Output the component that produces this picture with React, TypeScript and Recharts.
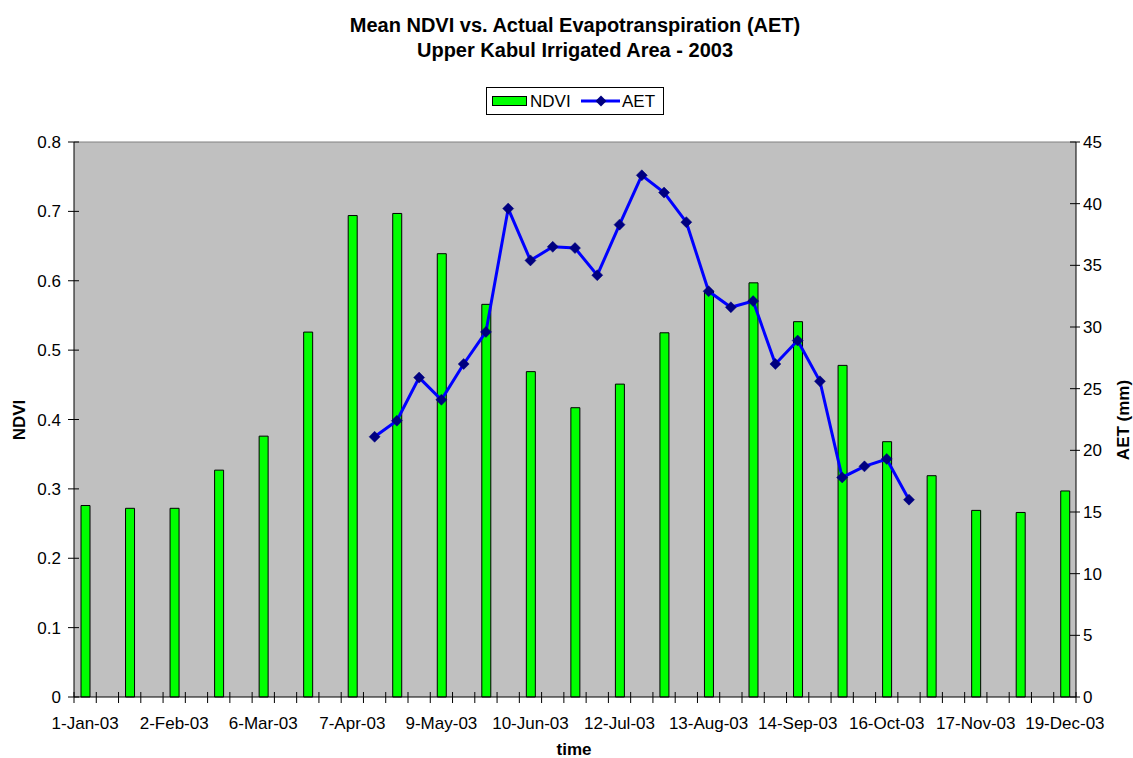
import { ComposedChart, Bar, Line, XAxis, YAxis, CartesianGrid, ReferenceLine } from 'recharts';

// 8-day periods across 2003
const dates = [
  '1-Jan-03', '9-Jan-03', '17-Jan-03', '25-Jan-03', '2-Feb-03', '10-Feb-03', '18-Feb-03', '26-Feb-03',
  '6-Mar-03', '14-Mar-03', '22-Mar-03', '30-Mar-03', '7-Apr-03', '15-Apr-03', '23-Apr-03', '1-May-03',
  '9-May-03', '17-May-03', '25-May-03', '2-Jun-03', '10-Jun-03', '18-Jun-03', '26-Jun-03', '4-Jul-03',
  '12-Jul-03', '20-Jul-03', '28-Jul-03', '5-Aug-03', '13-Aug-03', '21-Aug-03', '29-Aug-03', '6-Sep-03',
  '14-Sep-03', '22-Sep-03', '30-Sep-03', '8-Oct-03', '16-Oct-03', '24-Oct-03', '1-Nov-03', '9-Nov-03',
  '17-Nov-03', '25-Nov-03', '3-Dec-03', '11-Dec-03', '19-Dec-03',
];

// 16-day NDVI composites, starting 1-Jan-03
const ndvi = [
  0.276, 0.272, 0.272, 0.327, 0.376, 0.526, 0.694, 0.697, 0.639, 0.566, 0.469, 0.417,
  0.451, 0.525, 0.585, 0.597, 0.541, 0.478, 0.368, 0.319, 0.269, 0.266, 0.297,
];

// 8-day AET (mm), starting 15-Apr-03
const aetStart = '15-Apr-03';
const aet = [
  21.1, 22.4, 25.9, 24.1, 27.0, 29.6, 39.6, 35.4, 36.5, 36.4, 34.2, 38.3, 42.3,
  40.9, 38.5, 32.9, 31.6, 32.1, 27.0, 28.9, 25.6, 17.8, 18.7, 19.3, 16.0,
];

const ndviTicks = [0, 0.1, 0.2, 0.3, 0.4, 0.5, 0.6, 0.7, 0.8];
const aetTicks = [0, 5, 10, 15, 20, 25, 30, 35, 40, 45];

const W = 1133;
const H = 758;
const PLOT_LEFT = 74;
const PLOT_RIGHT = 1076;
const PLOT_TOP = 142;
const PLOT_BOTTOM = 697;
const BAND = (PLOT_RIGHT - PLOT_LEFT) / dates.length;
const FONT = '"Liberation Sans", Arial, sans-serif';

const aetOffset = dates.indexOf(aetStart);
const data = dates.map((date, i) => ({
  date,
  ndvi: i % 2 === 0 ? ndvi[i / 2] : null,
  aet: i >= aetOffset && i < aetOffset + aet.length ? aet[i - aetOffset] : null,
}));

const XTick = (props: any) => {
  const { x, payload } = props;
  const i = payload.index;
  const left = x - BAND / 2;
  return (
    <g>
      <line x1={left} x2={left} y1={PLOT_BOTTOM - 5} y2={PLOT_BOTTOM + 6} stroke="#000" />
      {i === dates.length - 1 && (
        <line x1={left + BAND} x2={left + BAND} y1={PLOT_BOTTOM - 5} y2={PLOT_BOTTOM + 6} stroke="#000" />
      )}
      {i % 4 === 0 && (
        <text x={x} y={729} textAnchor="middle" fontSize={17} fontFamily={FONT} fill="#000">
          {payload.value}
        </text>
      )}
    </g>
  );
};

const LeftTick = (props: any) => {
  const { y, payload } = props;
  return (
    <g>
      <line x1={PLOT_LEFT - 6} x2={PLOT_LEFT + 5} y1={y} y2={y} stroke="#000" />
      <text x={61} y={y} dy={6} textAnchor="end" fontSize={17} fontFamily={FONT} fill="#000">
        {String(payload.value)}
      </text>
    </g>
  );
};

const RightTick = (props: any) => {
  const { y, payload } = props;
  return (
    <g>
      <line x1={PLOT_RIGHT - 6} x2={PLOT_RIGHT + 4} y1={y} y2={y} stroke="#000" />
      <text x={1083} y={y} dy={6} textAnchor="start" fontSize={17} fontFamily={FONT} fill="#000">
        {String(payload.value)}
      </text>
    </g>
  );
};

const Diamond = (props: any) => {
  const { cx, cy, index } = props;
  if (cx == null || cy == null) return <g key={`d-${index}`} />;
  const r = 5.5;
  return (
    <polygon
      key={`d-${index}`}
      points={`${cx},${cy - r} ${cx + r},${cy} ${cx},${cy + r} ${cx - r},${cy}`}
      fill="#000080"
      stroke="#000080"
      strokeWidth={0.5}
    />
  );
};

export default function App() {
  return (
    <div style={{ position: 'absolute', left: 0, top: 0, width: W, height: H, background: '#fff' }}>
      <ComposedChart
        width={W}
        height={H}
        data={data}
        margin={{ top: PLOT_TOP, right: 17, bottom: 31, left: 30 }}
      >
        <CartesianGrid fill="#C0C0C0" stroke="none" horizontal={false} vertical={false} />
        <XAxis
          dataKey="date"
          interval={0}
          height={30}
          tickLine={false}
          axisLine={{ stroke: '#000' }}
          tick={<XTick />}
        />
        <YAxis
          yAxisId="left"
          domain={[0, 0.8]}
          ticks={ndviTicks}
          width={44}
          tickLine={false}
          axisLine={{ stroke: '#000' }}
          tick={<LeftTick />}
        />
        <YAxis
          yAxisId="right"
          orientation="right"
          domain={[0, 45]}
          ticks={aetTicks}
          width={40}
          tickLine={false}
          axisLine={{ stroke: '#000' }}
          tick={<RightTick />}
        />
        <ReferenceLine yAxisId="left" y={0.8} stroke="#808080" />
        <Bar
          yAxisId="left"
          dataKey="ndvi"
          fill="#00FF00"
          stroke="#000"
          strokeWidth={1}
          barSize={9}
          isAnimationActive={false}
        />
        <Line
          yAxisId="right"
          dataKey="aet"
          stroke="#0000FF"
          strokeWidth={3}
          dot={Diamond}
          activeDot={false}
          isAnimationActive={false}
        />
      </ComposedChart>

      <svg
        width={W}
        height={H}
        style={{ position: 'absolute', left: 0, top: 0, pointerEvents: 'none' }}
        fontFamily={FONT}
      >
        <text x={575} y={32} textAnchor="middle" fontSize={20} fontWeight="bold">
          Mean NDVI vs. Actual Evapotranspiration (AET)
        </text>
        <text x={575} y={57} textAnchor="middle" fontSize={20} fontWeight="bold">
          Upper Kabul Irrigated Area - 2003
        </text>

        <g transform="translate(486,87)">
          <rect x={0.5} y={0.5} width={177} height={27} fill="#fff" stroke="#000" />
          <rect x={6.5} y={9.5} width={34} height={9} fill="#00FF00" stroke="#000" />
          <text x={44} y={20} fontSize={17}>NDVI</text>
          <line x1={95} x2={134} y1={14} y2={14} stroke="#0000FF" strokeWidth={3} />
          <polygon points="115,8.5 120.5,14 115,19.5 109.5,14" fill="#000080" />
          <text x={136} y={20} fontSize={17}>AET</text>
        </g>

        <text transform="translate(25,420) rotate(-90)" textAnchor="middle" fontSize={17} fontWeight="bold">
          NDVI
        </text>
        <text transform="translate(1129,420) rotate(-90)" textAnchor="middle" fontSize={17} fontWeight="bold">
          AET (mm)
        </text>
        <text x={574} y={755} textAnchor="middle" fontSize={17} fontWeight="bold">
          time
        </text>
      </svg>
    </div>
  );
}
